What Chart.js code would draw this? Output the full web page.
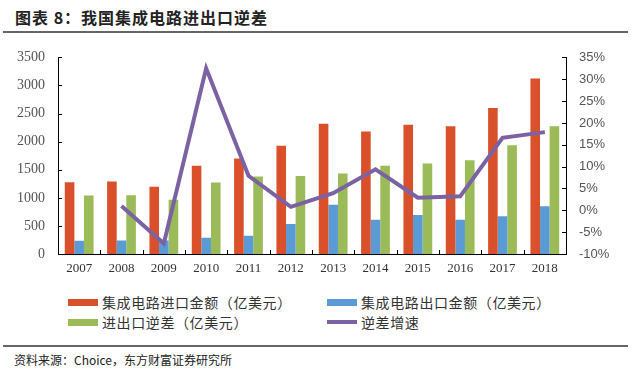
<!DOCTYPE html>
<html>
<head>
<meta charset="utf-8">
<script src="https://cdn.jsdelivr.net/npm/chart.js@4/dist/chart.umd.min.js"></script>
<style>
    body { margin: 0; width: 640px; height: 381px; background: #fff; position: relative; overflow: hidden; font-family: "Noto Sans CJK SC", sans-serif; }
    .title { position: absolute; left: 15px; top: 5px; font-size: 16px; font-weight: bold; color: #222; letter-spacing: 1px; }
    .rule { position: absolute; left: 3px; right: 12px; height: 2px; background: #666; }
    .chart-box { position: absolute; left: 0; top: 36px; width: 640px; height: 250px; }
    .legend-item { position: absolute; display: flex; align-items: center; font-size: 14px; color: #333; letter-spacing: 0.6px; }
    .legend-swatch { width: 30px; margin-right: 4px; }
    .source { position: absolute; left: 14px; top: 351px; font-size: 12px; color: #222; }
</style>
</head>
<body>
<div class="title">图表 8：我国集成电路进出口逆差</div>
<div class="rule" style="top: 31px;"></div>
<div class="chart-box"><canvas id="icTradeChart" width="640" height="250"></canvas></div>
<div id="legend"></div>
<div class="rule" style="top: 345px; height: 2px;"></div>
<div class="source">资料来源：Choice，东方财富证券研究所</div>

<script>
// Categories & series (亿美元 / %)
const years = ['2007', '2008', '2009', '2010', '2011', '2012', '2013', '2014', '2015', '2016', '2017', '2018'];
const importValue = [1277, 1292, 1199, 1570, 1702, 1929, 2317, 2180, 2300, 2276, 2600, 3124];
const exportValue = [235, 240, 240, 290, 324, 535, 876, 609, 695, 609, 671, 848];
const tradeDeficit = [1042, 1047, 968, 1275, 1378, 1388, 1434, 1571, 1610, 1668, 1934, 2276];
const deficitGrowth = [null, 1.0, -7.6, 32.5, 7.9, 0.8, 3.9, 9.4, 2.9, 3.2, 16.6, 17.9];

const leftTicks = [0, 500, 1000, 1500, 2000, 2500, 3000, 3500];
const rightTicks = [-10, -5, 0, 5, 10, 15, 20, 25, 30, 35];

const colors = {
    import: '#d9502b',
    export: '#5b9bd5',
    deficit: '#9bbb59',
    growth: '#7a62a3'
};

// Small inward tick marks on the axes
const innerTicks = {
    id: 'innerTicks',
    afterDraw(chart) {
        const { ctx, chartArea, scales } = chart;
        ctx.save();
        ctx.strokeStyle = '#000';
        ctx.lineWidth = 1;
        ctx.beginPath();
        scales.y.ticks.forEach((t, i) => {
            const y = Math.round(scales.y.getPixelForTick(i)) + 0.5;
            ctx.moveTo(chartArea.left, y);
            ctx.lineTo(chartArea.left + 4, y);
        });
        scales.y1.ticks.forEach((t, i) => {
            const y = Math.round(scales.y1.getPixelForTick(i)) + 0.5;
            ctx.moveTo(chartArea.right, y);
            ctx.lineTo(chartArea.right - 4, y);
        });
        const step = (chartArea.right - chartArea.left) / years.length;
        for (let i = 1; i < years.length; i++) {
            const x = Math.round(scales.x.getPixelForValue(i) - step / 2) + 0.5;
            ctx.moveTo(x, chartArea.bottom);
            ctx.lineTo(x, chartArea.bottom - 4);
        }
        ctx.stroke();
        ctx.restore();
    }
};

function initChart() {
    const ctx = document.getElementById('icTradeChart');

    const data = {
        labels: years,
        datasets: [
            {
                type: 'line',
                label: '逆差增速',
                data: deficitGrowth,
                yAxisID: 'y1',
                borderColor: colors.growth,
                backgroundColor: colors.growth,
                borderWidth: 4,
                pointRadius: 0,
                tension: 0,
                order: 0
            },
            {
                label: '集成电路进口金额（亿美元）',
                data: importValue,
                backgroundColor: colors.import,
                yAxisID: 'y',
                order: 1
            },
            {
                label: '集成电路出口金额（亿美元）',
                data: exportValue,
                backgroundColor: colors.export,
                yAxisID: 'y',
                order: 1
            },
            {
                label: '进出口逆差（亿美元）',
                data: tradeDeficit,
                backgroundColor: colors.deficit,
                yAxisID: 'y',
                order: 1
            }
        ]
    };

    const config = {
        type: 'bar',
        data: data,
        options: {
            responsive: false,
            animation: false,
            datasets: {
                bar: { categoryPercentage: 0.68, barPercentage: 1.0 }
            },
            layout: { padding: { top: 6, left: 0, right: 0, bottom: 0 } },
            plugins: {
                legend: { display: false },
                tooltip: { enabled: false }
            },
            scales: {
                x: {
                    grid: { display: false, drawTicks: false },
                    border: { color: '#000', width: 1 },
                    ticks: {
                        color: '#333',
                        padding: 7,
                        font: { family: 'Liberation Serif', size: 13 }
                    },
                    afterFit(scale) { scale.height = 32; }
                },
                y: {
                    position: 'left',
                    min: 0,
                    max: 3500,
                    afterBuildTicks(scale) { scale.ticks = leftTicks.map(v => ({ value: v })); },
                    grid: { display: false, drawTicks: false },
                    border: { color: '#000', width: 1 },
                    ticks: {
                        color: '#555',
                        padding: 13,
                        font: { family: 'Liberation Serif', size: 14 },
                        callback: v => String(v)
                    },
                    afterFit(scale) { scale.width = 58; }
                },
                y1: {
                    position: 'right',
                    min: -10,
                    max: 35,
                    afterBuildTicks(scale) { scale.ticks = rightTicks.map(v => ({ value: v })); },
                    grid: { display: false, drawTicks: false },
                    border: { color: '#000', width: 1 },
                    ticks: {
                        color: '#555',
                        padding: 13,
                        font: { family: 'Liberation Sans', size: 13 },
                        callback: v => v + '%'
                    },
                    afterFit(scale) { scale.width = 74; }
                }
            }
        },
        plugins: [innerTicks]
    };

    return new Chart(ctx, config);
}

// Two-column legend built from the datasets
function buildLegend(chart) {
    const box = document.getElementById('legend');
    const order = [1, 2, 3, 0];
    const spots = [[68, 292], [327, 292], [68, 312], [327, 312]];
    order.forEach((idx, i) => {
        const ds = chart.data.datasets[idx];
        const item = document.createElement('div');
        item.className = 'legend-item';
        item.style.left = spots[i][0] + 'px';
        item.style.top = spots[i][1] + 'px';
        const sw = document.createElement('span');
        sw.className = 'legend-swatch';
        sw.style.background = ds.type === 'line' ? ds.borderColor : ds.backgroundColor;
        sw.style.height = ds.type === 'line' ? '4px' : '7px';
        item.appendChild(sw);
        item.appendChild(document.createTextNode(ds.label));
        box.appendChild(item);
    });
}

const chart = initChart();
buildLegend(chart);
</script>
</body>
</html>
